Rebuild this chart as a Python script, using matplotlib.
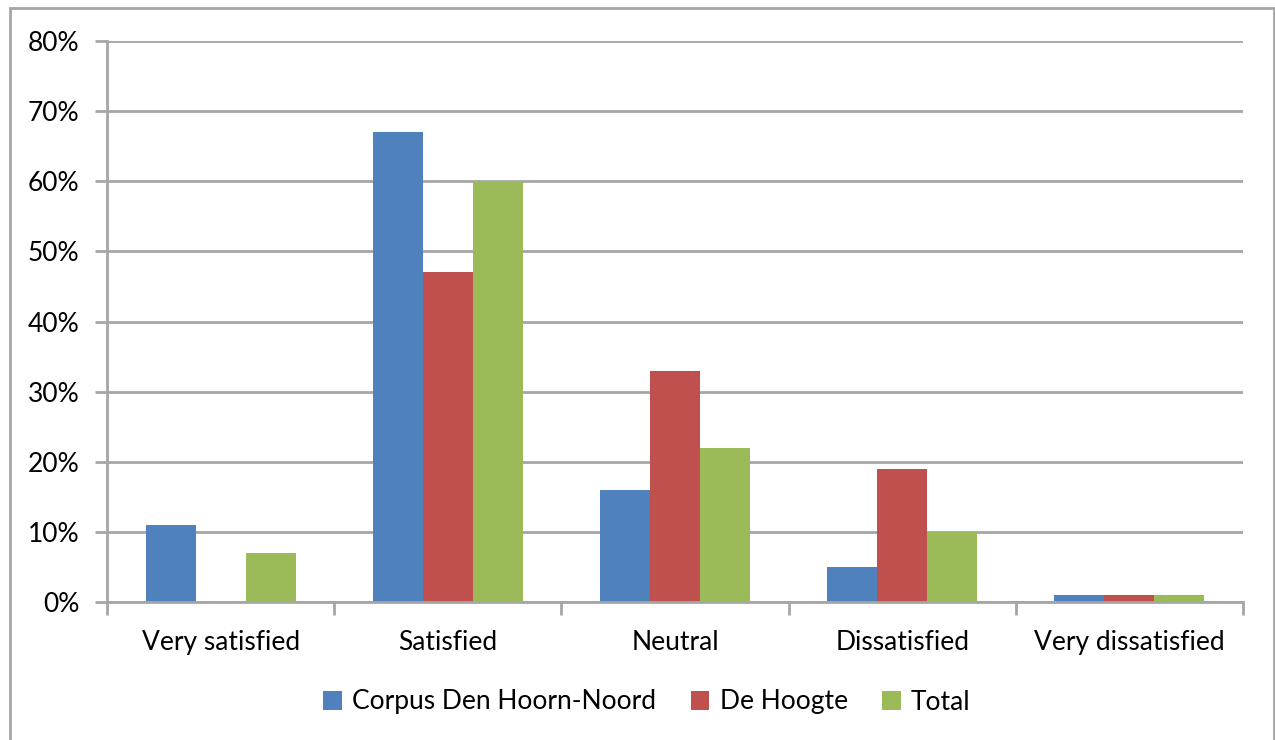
import numpy as np
import matplotlib.pyplot as plt
from matplotlib.patches import Rectangle

categories = ['Very satisfied', 'Satisfied', 'Neutral', 'Dissatisfied', 'Very dissatisfied']
corpus = [11, 67, 16, 5, 1]
hoogte = [0, 47, 33, 19, 1]
total = [7, 60, 22, 10, 1]

series = [('Corpus Den Hoorn-Noord', corpus, '#4F81BD'),
          ('De Hoogte', hoogte, '#C0504D'),
          ('Total', total, '#9BBB59')]

plt.rcParams['font.family'] = ['Lato', 'DejaVu Sans']
grid_col = '#A6A6A6'
fs = 19

fig = plt.figure(figsize=(12.75, 7.4), dpi=100)
ax = fig.add_axes([107 / 1275, 1 - 602 / 740, (1243 - 107) / 1275, (602 - 41) / 740])

# outer chart frame
fig.patches.append(Rectangle((10 / 1275, -0.05), (1274 - 10) / 1275, 1.05 - 8 / 740,
                             transform=fig.transFigure, fill=False,
                             edgecolor=grid_col, linewidth=2))

x = np.arange(len(categories))
w = 0.22
for i, (name, vals, col) in enumerate(series):
    ax.bar(x + (i - 1) * w, vals, width=w, color=col, label=name, zorder=3)

ax.set_xlim(-0.5, len(categories) - 0.5)
ax.set_ylim(0, 80)
ax.set_yticks(np.arange(0, 81, 10))
ax.set_yticklabels([f'{v}%' for v in range(0, 81, 10)])
ax.yaxis.grid(True, color=grid_col, linewidth=2, zorder=0)

ax.set_xticks(x)
ax.set_xticklabels(categories)
ax.set_xticks(np.arange(-0.5, len(categories)), minor=True)
ax.tick_params(axis='x', which='major', length=0, pad=20, labelsize=fs)
ax.tick_params(axis='x', which='minor', length=9, width=2, color=grid_col)
ax.tick_params(axis='y', length=9, width=2, color=grid_col, pad=11, labelsize=fs)

for s in ['top', 'right']:
    ax.spines[s].set_visible(False)
for s in ['left', 'bottom']:
    ax.spines[s].set_color(grid_col)
    ax.spines[s].set_linewidth(2)
ax.spines['bottom'].set_zorder(4)

fig.legend(loc='center', bbox_to_anchor=(647 / 1275, 1 - 702 / 740), ncol=3,
           frameon=False, fontsize=fs, handlelength=0.7, handleheight=0.7,
           handletextpad=0.4, columnspacing=1.3)

fig.savefig('out.png', dpi=100)
